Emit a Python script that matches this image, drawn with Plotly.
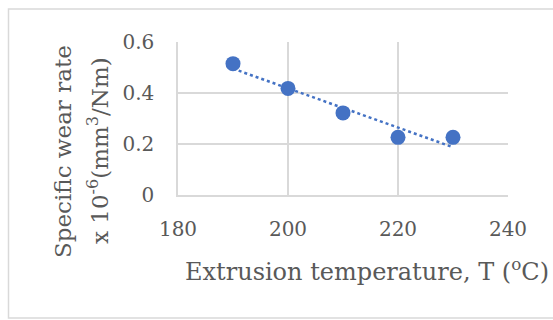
import numpy as np
import plotly.graph_objects as go

temps = [190, 200, 210, 220, 230]
wear = [0.515, 0.418, 0.322, 0.226, 0.226]
x_ticks = [180, 200, 220, 240]
y_ticks = [0, 0.2, 0.4, 0.6]
y_tick_text = ["0", "0.2", "0.4", "0.6"]

W, H = 553, 320
L, R, T, B = 178, 45, 42, 125
pw, ph = W - L - R, H - T - B

FONT = "DejaVu Serif"
GRAY = "#595959"
BLUE = "#4472C4"

coef = np.polyfit(temps, wear, 1)
trend_x = [temps[0], temps[-1]]
trend_y = list(np.polyval(coef, trend_x))

fig = go.Figure()
fig.add_trace(go.Scatter(x=trend_x, y=trend_y, mode="lines",
                         line=dict(color=BLUE, width=2.5, dash="dot"),
                         hoverinfo="skip", showlegend=False))
fig.add_trace(go.Scatter(x=temps, y=wear, mode="markers",
                         marker=dict(color=BLUE, size=15),
                         showlegend=False))

def px2x(p):
    return (p - L) / pw

def px2y(p):
    return (H - B - p) / ph

fig.add_shape(type="rect", xref="paper", yref="paper",
              x0=px2x(8.5), x1=px2x(570), y0=px2y(9), y1=px2y(318),
              line=dict(color="#d9d9d9", width=1.5), layer="below")

fig.add_annotation(
    text="Specific wear rate",
    xref="paper", yref="paper", x=px2x(63), y=px2y(151),
    textangle=-90, showarrow=False, xanchor="center", yanchor="middle",
    font=dict(family=FONT, size=23, color=GRAY))
fig.add_annotation(
    text="x 10<sup>-6</sup>(mm<sup>3</sup>/Nm)",
    xref="paper", yref="paper", x=px2x(98), y=px2y(151),
    textangle=-90, showarrow=False, xanchor="center", yanchor="middle",
    font=dict(family=FONT, size=23, color=GRAY))

fig.add_annotation(
    text="Extrusion temperature, T (<sup>o</sup>C)",
    xref="paper", yref="paper", x=px2x(367), y=px2y(270),
    showarrow=False, xanchor="center", yanchor="middle",
    font=dict(family=FONT, size=24, color=GRAY))

fig.update_layout(
    width=W, height=H,
    margin=dict(l=L, r=R, t=T, b=B),
    paper_bgcolor="white", plot_bgcolor="white",
    font=dict(family=FONT, size=20, color=GRAY),
    xaxis=dict(range=[180, 240], tickvals=x_ticks, showgrid=True,
               gridcolor="#d9d9d9", gridwidth=1.5, zeroline=False,
               showline=True, linecolor="#d9d9d9", linewidth=1.5,
               ticks="outside", ticklen=15, tickcolor="rgba(0,0,0,0)",
               tickfont=dict(size=20, color=GRAY)),
    yaxis=dict(range=[0, 0.6], tickvals=y_ticks, ticktext=y_tick_text,
               showgrid=True, gridcolor="#d9d9d9", gridwidth=1.5,
               zeroline=False, showline=True, linecolor="#d9d9d9",
               linewidth=1.5, ticks="outside", ticklen=18,
               tickcolor="rgba(0,0,0,0)", tickfont=dict(size=20, color=GRAY)),
)

fig.write_html("out.html", config={"displayModeBar": False},
               post_script="document.body.style.margin='0';document.body.style.overflow='hidden';")
